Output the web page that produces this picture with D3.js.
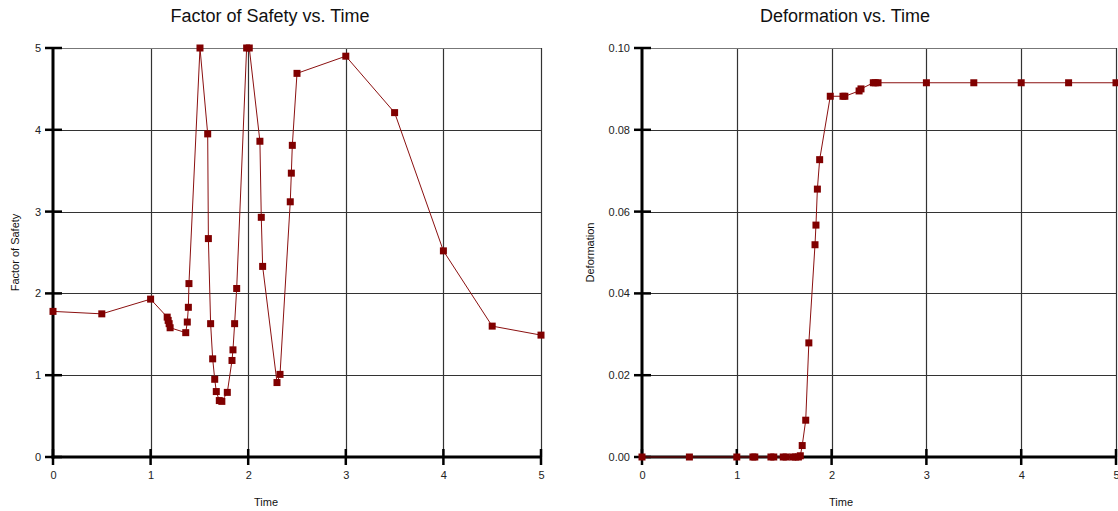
<!DOCTYPE html>
<html><head><meta charset="utf-8">
<script src="https://cdn.jsdelivr.net/npm/d3@7"></script>
<style>body{margin:0;background:#fff}svg{display:block}text{font-family:"Liberation Sans",Arial,sans-serif}</style>
</head><body>
<svg id="c" width="1118" height="511"></svg>
<script>
// Factor of Safety vs. Time
const fosTime = [0, 0.5, 1.0, 1.17, 1.18, 1.19, 1.2, 1.36, 1.376, 1.387, 1.393, 1.506, 1.585, 1.592, 1.615, 1.636, 1.657, 1.673, 1.704, 1.73, 1.786, 1.834, 1.844, 1.861, 1.882, 1.984, 2.011, 2.12, 2.134, 2.148, 2.295, 2.326, 2.431, 2.442, 2.452, 2.5, 3.0, 3.5, 4.0, 4.5, 5.0];
const fosValues = [1.78, 1.75, 1.93, 1.71, 1.67, 1.63, 1.58, 1.52, 1.65, 1.83, 2.12, 5.0, 3.95, 2.67, 1.63, 1.2, 0.95, 0.8, 0.69, 0.68, 0.79, 1.18, 1.31, 1.63, 2.06, 5.0, 5.0, 3.86, 2.93, 2.33, 0.91, 1.01, 3.12, 3.47, 3.81, 4.69, 4.9, 4.21, 2.52, 1.6, 1.49];
// Deformation vs. Time
const defTime = [0, 0.5, 1.0, 1.17, 1.19, 1.36, 1.39, 1.49, 1.52, 1.59, 1.62, 1.65, 1.67, 1.69, 1.727, 1.76, 1.825, 1.835, 1.85, 1.874, 1.986, 2.12, 2.14, 2.29, 2.31, 2.44, 2.46, 2.49, 3.0, 3.5, 4.0, 4.5, 5.0];
const defValues = [0, 0, 0, 0, 0, 0, 0, 0, 0, 0, 0, 0, 0.0003, 0.0028, 0.009, 0.0279, 0.0519, 0.0567, 0.0655, 0.0727, 0.0882, 0.0882, 0.0882, 0.0895, 0.09, 0.0915, 0.0915, 0.0915, 0.0915, 0.0915, 0.0915, 0.0915, 0.0915];
const xTicks = [0, 1, 2, 3, 4, 5];
const fosTicks = [0, 1, 2, 3, 4, 5];
const defTicks = [0, 0.02, 0.04, 0.06, 0.08, 0.10];

const svg = d3.select("#c");
svg.append("rect").attr("width",1118).attr("height",511).attr("fill","#fff");

function chart(cfg){
  const g = svg.append("g");
  const x = d3.scaleLinear().domain([0,5]).range([cfg.x0, cfg.x1]);
  const y = d3.scaleLinear().domain(cfg.yDomain).range([cfg.y0, cfg.y1]);
  // grid
  g.selectAll(".gx").data(xTicks.slice(1)).join("line")
    .attr("x1",d=>Math.round(x(d))+0.5).attr("x2",d=>Math.round(x(d))+0.5)
    .attr("y1",cfg.y1).attr("y2",cfg.y0).attr("stroke","#333").attr("stroke-width",1.2);
  g.selectAll(".gy").data(cfg.yTicks.slice(1)).join("line")
    .attr("y1",d=>Math.round(y(d))+0.5).attr("y2",d=>Math.round(y(d))+0.5)
    .attr("x1",cfg.x0).attr("x2",cfg.x1)
    .attr("stroke",(d,i,n)=>i===n.length-1?"#777":"#333").attr("stroke-width",1.2);
  // axes lines
  g.append("line").attr("x1",cfg.x0).attr("x2",cfg.x0).attr("y1",cfg.y1).attr("y2",cfg.y0+1.5)
    .attr("stroke","#000").attr("stroke-width",3);
  g.append("line").attr("x1",cfg.x0-1.5).attr("x2",cfg.x1).attr("y1",cfg.y0).attr("y2",cfg.y0)
    .attr("stroke","#000").attr("stroke-width",3);
  // ticks crossing axes
  g.selectAll(".ty").data(cfg.yTicks).join("line")
    .attr("y1",d=>y(d)).attr("y2",d=>y(d)).attr("x1",cfg.x0-8).attr("x2",cfg.x0+9)
    .attr("stroke","#000").attr("stroke-width",2.5);
  g.selectAll(".tx").data(xTicks).join("line")
    .attr("x1",d=>x(d)).attr("x2",d=>x(d)).attr("y1",cfg.y0-8).attr("y2",cfg.y0+8)
    .attr("stroke","#000").attr("stroke-width",2.5);
  // tick labels via axis generators
  const ax = g.append("g").attr("transform",`translate(0,${cfg.y0+10})`)
    .call(d3.axisBottom(x).tickValues(xTicks).tickFormat(d3.format("d")).tickSize(0));
  ax.select(".domain").remove();
  ax.selectAll("text").attr("font-size",11).attr("fill","#222").attr("dy","0.8em");
  const ay = g.append("g").attr("transform",`translate(${cfg.x0-9},0)`)
    .call(d3.axisLeft(y).tickValues(cfg.yTicks).tickFormat(d3.format(cfg.fmt)).tickSize(0));
  ay.select(".domain").remove();
  ay.selectAll("text").attr("font-size",11).attr("fill","#222");
  // line + markers
  const pts = cfg.t.map((t,i)=>[t,cfg.v[i]]);
  g.append("path").datum(pts).attr("fill","none").attr("stroke","#8b1010").attr("stroke-width",1)
    .attr("d",d3.line().x(d=>x(d[0])).y(d=>y(d[1])));
  g.selectAll(".m").data(pts).join("rect")
    .attr("x",d=>x(d[0])-3.5).attr("y",d=>y(d[1])-3.5).attr("width",7).attr("height",7)
    .attr("fill","#800000");
  // titles
  g.append("text").attr("x",cfg.tc).attr("y",22).attr("text-anchor","middle")
    .attr("font-size",18).attr("fill","#111").text(cfg.title);
  g.append("text").attr("x",cfg.tc-4).attr("y",506).attr("text-anchor","middle")
    .attr("font-size",11).attr("fill","#111").text("Time");
  g.append("text").attr("transform",`translate(${cfg.ylx},${(cfg.y0+cfg.y1)/2}) rotate(-90)`)
    .attr("text-anchor","middle").attr("font-size",11).attr("fill","#111").text(cfg.ylabel);
}

chart({x0:53,x1:541,y0:457,y1:48,yDomain:[0,5],yTicks:fosTicks,fmt:"d",t:fosTime,v:fosValues,
  title:"Factor of Safety vs. Time",ylabel:"Factor of Safety",tc:270,ylx:19});
chart({x0:642,x1:1116,y0:457,y1:48,yDomain:[0,0.1],yTicks:defTicks,fmt:".2f",t:defTime,v:defValues,
  title:"Deformation vs. Time",ylabel:"Deformation",tc:845,ylx:594});
</script>
</body></html>
